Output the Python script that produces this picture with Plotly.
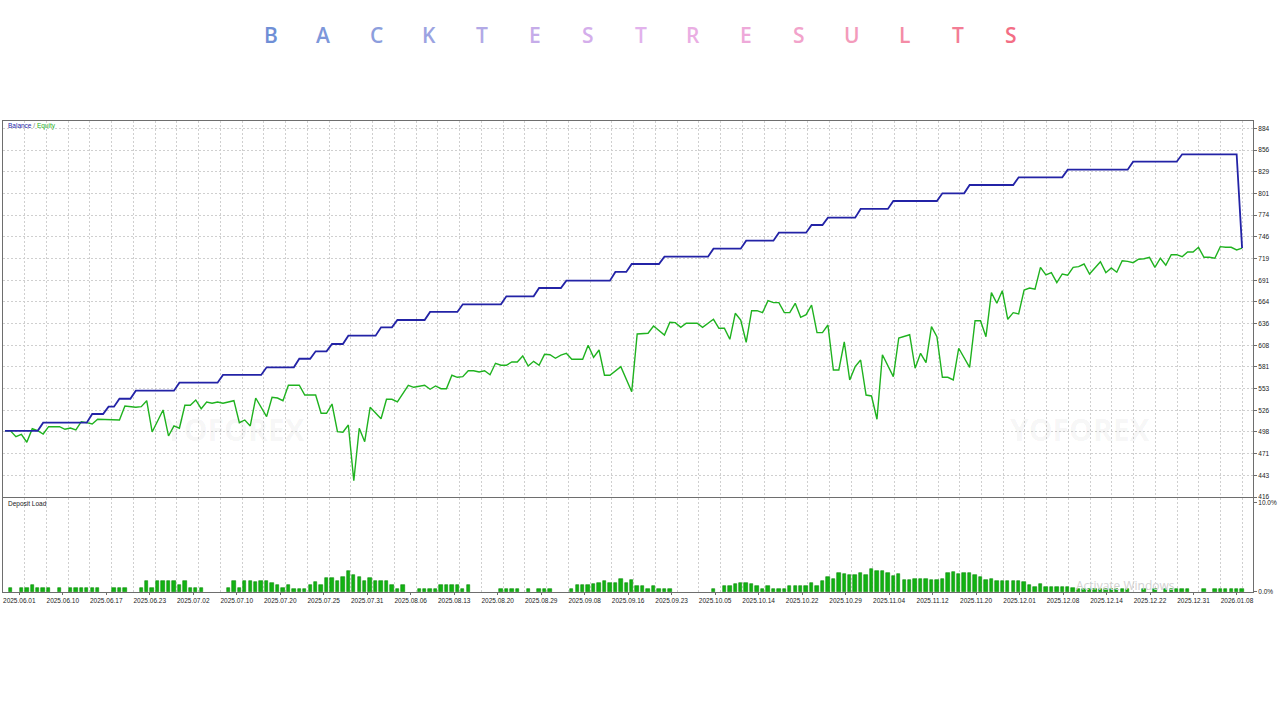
import plotly.graph_objects as go

# ---------------- data ----------------
title_letters = ["B", "A", "C", "K", "T", "E", "S", "T", "R", "E", "S", "U", "L", "T", "S"]
title_colors = ["#6f8fd6", "#7d97da", "#8c9edd", "#9ba3e1", "#b2a9e6", "#c5ace9", "#d4aeeb",
                "#e2b2ec", "#eaaee3", "#eea9d9", "#f2a3cb", "#f39bbb", "#f48ca6", "#f37d95", "#f36e85"]

date_labels = ["2025.06.01", "2025.06.10", "2025.06.17", "2025.06.23", "2025.07.02", "2025.07.10",
               "2025.07.20", "2025.07.25", "2025.07.31", "2025.08.06", "2025.08.13", "2025.08.20",
               "2025.08.29", "2025.09.08", "2025.09.16", "2025.09.23", "2025.10.05", "2025.10.14",
               "2025.10.22", "2025.10.29", "2025.11.04", "2025.11.12", "2025.11.20", "2025.12.01",
               "2025.12.08", "2025.12.14", "2025.12.22", "2025.12.31", "2026.01.08"]

y_tick_labels = ["416", "443", "471", "498", "526", "553", "581", "608", "636", "664", "691",
                 "719", "746", "774", "801", "829", "856", "884"]

balance_deals = [0, 6, 7, 15, 16, 18, 19, 20, 21, 23, 24, 31, 32, 39, 40, 47, 48, 53, 54, 56,
                 57, 59, 60, 62, 63, 68, 69, 71, 72, 77, 78, 83, 84, 91, 92, 97, 98, 102, 103, 111,
                 112, 114, 115, 120, 121, 129, 130, 135, 136, 141, 142, 147, 148, 150, 151, 156,
                 157, 162, 163, 171, 172, 176, 177, 185, 186, 194, 195, 206, 207, 215, 216, 226, 227]
balance_values = [500, 500, 510.4, 510.4, 521.4, 521.4, 530.7, 530.7, 540.8, 540.8, 551, 551,
                  561.2, 561.2, 571, 571, 580.7, 580.7, 591.6, 591.6, 601, 601, 610.3, 610.3,
                  620.9, 620.9, 631.5, 631.5, 640.8, 640.8, 651, 651, 660.7, 660.7, 670.9, 670.9,
                  681.4, 681.4, 690.7, 690.7, 701.8, 701.8, 711.9, 711.9, 721.2, 721.2, 731.3, 731.3,
                  741.5, 741.5, 751.7, 751.7, 761.4, 761.4, 770.7, 770.7, 781.8, 781.8, 791.9, 791.9,
                  801.7, 801.7, 812.2, 812.2, 822, 822, 831.7, 831.7, 841.8, 841.8, 851.2, 851.2, 732]

equity_deals = [0, 1, 2, 3, 4, 5, 6, 7, 8, 10, 11, 12, 13, 14, 15, 16, 17, 19, 21, 22, 24, 25, 26,
                27, 29, 30, 31, 32, 33, 34, 35, 36, 37, 38, 39, 40, 42, 43, 44, 45, 46, 48, 49, 50,
                51, 52, 54, 55, 57, 58, 59, 60, 61, 62, 63, 64, 65, 66, 67, 69, 70, 71, 72, 74, 75,
                77, 78, 79, 80, 81, 82, 83, 84, 85, 86, 87, 88, 89, 90, 91, 92, 93, 94, 95, 96, 97,
                98, 99, 100, 101, 102, 103, 104, 106, 107, 108, 109, 110, 111, 113, 115, 116, 118,
                119, 121, 122, 123, 124, 125, 127, 128, 130, 131, 132, 133, 134, 135, 136, 137, 138,
                139, 140, 141, 142, 143, 144, 145, 146, 147, 148, 149, 150, 151, 152, 153, 154, 155,
                156, 157, 158, 159, 160, 161, 163, 164, 166, 167, 168, 169, 170, 171, 172, 173, 174,
                175, 177, 178, 179, 180, 181, 182, 183, 184, 185, 186, 187, 188, 189, 190, 191, 192,
                193, 194, 195, 196, 197, 198, 199, 200, 201, 202, 203, 204, 205, 206, 207, 208, 209,
                210, 211, 212, 213, 214, 215, 216, 217, 218, 219, 220, 221, 222, 223, 224, 225, 226,
                227]
equity_values = [500.2, 500, 492.6, 495.6, 485.5, 502.7, 500.2, 496, 505.3, 505.3, 502, 503.6,
                 501.1, 511.6, 510.4, 508.7, 514.7, 513.8, 513.8, 531.6, 530, 530.7, 538.3, 498.6,
                 526.5, 493.5, 506.2, 503.3, 532.5, 532.5, 539.2, 528.1, 536.7, 535, 536.7, 535,
                 538.3, 510.4, 513.8, 506.2, 541.7, 518, 542.6, 541.7, 538.3, 557.9, 557.9, 545.5,
                 545.5, 522.3, 522.3, 534.1, 498.9, 498.2, 507.4, 436.7, 503.3, 486.2, 529.9, 515.4,
                 540.1, 540.1, 536.7, 557.9, 555.3, 557.9, 552.8, 557, 553.5, 553.5, 570.6, 568,
                 568.8, 576.4, 576.4, 574.8, 576.4, 571.3, 585.8, 583.3, 583.3, 587.5, 587.5, 595.1,
                 582.4, 588.3, 583.3, 597.2, 596.7, 592.2, 596.3, 598.5, 590.9, 590.9, 608.7, 593.4,
                 602.7, 570.6, 570.6, 581.5, 549.7, 623, 623.9, 633.2, 621.7, 637.9, 637.4, 631.5,
                 636.6, 636.6, 631.5, 641.7, 630.3, 630.3, 616.3, 649.3, 640.8, 612.5, 652.6, 652.6,
                 650.1, 665.3, 662.8, 662.8, 650.1, 650.1, 662, 644.2, 647.5, 659.8, 624.7, 624.7,
                 634.4, 577.3, 577.3, 612.9, 564.6, 581.5, 590, 545.5, 544.3, 514.7, 596.7, 568.8,
                 617.9, 622.1, 579.5, 598.5, 586.6, 632.3, 619.6, 568, 568, 564.6, 604.9, 580.7,
                 639.9, 639.9, 619.6, 675.5, 662, 678, 641.7, 650.1, 648.4, 678.9, 681.4, 679.8,
                 707.7, 698, 700.9, 688.2, 699.2, 697.6, 707.7, 708.5, 711.9, 699.2, 706.8, 714.8,
                 700.9, 706.8, 701.4, 716.1, 715.3, 713.6, 717.9, 718.6, 720.4, 707.7, 719.2, 710.3,
                 723.7, 723.7, 721.2, 727.2, 727.2, 733.1, 720.4, 720.4, 719.2, 733.9, 733.1, 733.1,
                 729.7, 732]

load_deals = [1, 3, 4, 5, 6, 7, 8, 10, 12, 13, 14, 15, 16, 17, 20, 21, 22, 25, 26, 27, 28, 29, 30,
              31, 32, 33, 34, 35, 36, 41, 42, 43, 44, 45, 46, 47, 48, 49, 50, 51, 52, 53, 54, 55,
              56, 57, 58, 59, 60, 61, 62, 63, 64, 65, 66, 67, 68, 69, 70, 71, 72, 73, 76, 77, 78,
              79, 80, 81, 82, 83, 84, 85, 91, 92, 93, 94, 96, 98, 99, 100, 104, 105, 106, 107, 108,
              109, 110, 111, 112, 113, 114, 115, 116, 117, 118, 119, 120, 121, 122, 130, 132, 133,
              134, 135, 136, 137, 138, 139, 140, 141, 142, 143, 144, 145, 146, 147, 148, 149, 150,
              151, 152, 153, 154, 155, 156, 157, 158, 159, 160, 161, 162, 163, 164, 165, 166, 167,
              168, 169, 170, 171, 172, 173, 174, 175, 176, 177, 178, 179, 180, 181, 182, 183, 184,
              185, 186, 187, 188, 189, 190, 191, 192, 193, 194, 195, 196, 197, 198, 199, 200, 201,
              202, 203, 204, 205, 206, 209, 211, 213, 214, 215, 216, 217, 220, 222, 223, 224, 225,
              226, 227]
load_values = [0.45, 0.45, 0.45, 0.82, 0.45, 0.45, 0.45, 0.45, 0.45, 0.45, 0.45, 0.45, 0.45, 0.45,
               0.45, 0.45, 0.45, 0.45, 1.2, 0.45, 1.2, 1.2, 1.27, 1.2, 0.82, 1.2, 0.45, 0.45, 0.45,
               0.45, 1.2, 0.45, 1.2, 1.2, 1.12, 1.2, 1.2, 1.05, 0.75, 0.45, 0.75, 0.3, 0.3, 0.3,
               0.75, 1.12, 0.82, 1.57, 1.57, 1.27, 1.65, 2.4, 1.87, 1.65, 1.27, 1.57, 1.2, 1.2, 1.2,
               0.75, 0.37, 0.75, 0.3, 0.3, 0.3, 0.3, 0.75, 0.75, 0.75, 0.75, 0.3, 0.75, 0.3, 0.3,
               0.3, 0.3, 0.3, 0.3, 0.3, 0.3, 0.3, 0.75, 0.75, 0.75, 0.9, 1.05, 1.27, 1.05, 1.05,
               1.5, 1.05, 1.35, 0.67, 0.67, 0.3, 0.67, 0.3, 0.3, 0.3, 0.3, 0.67, 0.67, 0.9, 0.97,
               0.97, 0.9, 0.67, 0.3, 0.67, 0.3, 0.3, 0.3, 0.67, 0.67, 0.67, 0.67, 0.97, 0.67, 1.27,
               1.65, 1.42, 2.17, 2.02, 1.87, 1.87, 2.1, 1.87, 2.62, 2.4, 2.4, 2.1, 1.8, 2.02, 1.35,
               1.35, 1.42, 1.42, 1.42, 1.35, 1.35, 1.42, 2.17, 2.25, 2.02, 2.1, 2.1, 1.87, 1.65,
               1.35, 1.5, 1.27, 1.2, 1.27, 1.27, 1.27, 1.12, 0.82, 0.6, 0.9, 0.6, 0.6, 0.6, 0.6,
               0.52, 0.45, 0.3, 0.3, 0.3, 0.3, 0.3, 0.3, 0.3, 0.3, 0.3, 0.3, 0.3, 0.3, 0.3, 0.3,
               0.3, 0.3, 0.3, 0.3, 0.3, 0.3, 0.3, 0.3, 0.3, 0.3]

# ---------------- layout constants ----------------
X_MIN, X_MAX = -0.37, 229.0
GRID_STEP = 3.99            # deals per vertical grid line
LABEL_STEP = 7.98           # deals per date label
Y_MIN, Y_MAX, Y_TOP = 416, 884, 893.5
FONT = "Liberation Sans"
GRID_COLOR = "#cfcfcf"
FRAME_COLOR = "#6e6e6e"

y_tick_vals = [Y_MIN + i * (Y_MAX - Y_MIN) / (len(y_tick_labels) - 1) for i in range(len(y_tick_labels))]
x_tick_vals = [X_MIN + LABEL_STEP * (i + 0.5) - 1.0 for i in range(len(date_labels))]
grid_vals = [X_MIN + GRID_STEP * i for i in range(1, 58)]

fig = go.Figure()

fig.add_trace(go.Bar(x=load_deals, y=load_values, xaxis="x2", yaxis="y2", width=0.62,
                     marker=dict(color="#12b312", line=dict(color="#0b8c0b", width=0.6)),
                     showlegend=False, hoverinfo="skip"))
fig.add_trace(go.Scatter(x=equity_deals, y=equity_values, mode="lines", xaxis="x", yaxis="y",
                         line=dict(color="#1fb21f", width=1.4), showlegend=False))
fig.add_trace(go.Scatter(x=balance_deals, y=balance_values, mode="lines", xaxis="x", yaxis="y",
                         line=dict(color="#2323a6", width=1.8), showlegend=False))

axis_common = dict(showline=True, mirror=True, linecolor=FRAME_COLOR, linewidth=1, zeroline=False)

fig.update_layout(
    width=1280, height=720,
    paper_bgcolor="white", plot_bgcolor="white",
    margin=dict(l=3, r=27, t=121, b=128),
    bargap=0,
    xaxis=dict(domain=[0, 1], anchor="y", range=[X_MIN, X_MAX], showticklabels=False,
               showgrid=False, ticks="",
               minor=dict(tickvals=grid_vals, showgrid=True, gridcolor=GRID_COLOR,
                          griddash="2px,2px", gridwidth=1),
               **axis_common),
    xaxis2=dict(domain=[0, 1], anchor="y2", matches="x", range=[X_MIN, X_MAX],
                tickmode="array", tickvals=x_tick_vals, ticktext=date_labels,
                tickfont=dict(family=FONT, size=6.5, color="#222222"), ticks="outside",
                ticklen=2, tickcolor=FRAME_COLOR, showgrid=False,
                minor=dict(tickvals=grid_vals, showgrid=True, gridcolor=GRID_COLOR,
                           griddash="2px,2px", gridwidth=1),
                **axis_common),
    yaxis=dict(domain=[0.2017, 1], anchor="x", side="right", range=[Y_MIN, Y_TOP],
               tickmode="array", tickvals=y_tick_vals, ticktext=y_tick_labels,
               tickfont=dict(family=FONT, size=6.5, color="#222222"), ticks="outside",
               ticklen=3, tickcolor=FRAME_COLOR,
               showgrid=True, gridcolor=GRID_COLOR, griddash="2px,2px", gridwidth=1,
               **axis_common),
    yaxis2=dict(domain=[0, 0.1996], anchor="x2", side="right", range=[0, 10.56],
                tickmode="array", tickvals=[0, 10], ticktext=["0.0%", "10.0%"],
                tickfont=dict(family=FONT, size=6.5, color="#222222"), ticks="outside",
                ticklen=3, tickcolor=FRAME_COLOR, showgrid=False,
                **axis_common),
)

annotations = []
# watermarks
for wx in (0.186, 0.862):
    annotations.append(dict(text="<b>YOFOREX</b>", xref="paper", yref="paper", x=wx, y=0.344,
                            xanchor="center", yanchor="middle", showarrow=False,
                            font=dict(family="Open Sans", size=30, color="rgba(0,0,0,0.05)")))
annotations.append(dict(text="Activate Windows", xref="paper", yref="paper",
                        x=(1125 - 3) / 1250, y=(592 - 585) / 471,
                        xanchor="center", yanchor="middle", showarrow=False,
                        font=dict(family="Open Sans", size=12, color="#d2d2d2")))
# legend-like labels
annotations.append(dict(text="<span style='color:#2323a6'>Balance</span>"
                             "<span style='color:#777777'> / </span>"
                             "<span style='color:#1fb21f'>Equity</span>",
                        xref="paper", yref="paper", x=0.0025, y=(592 - 126) / 471,
                        xanchor="left", yanchor="middle", showarrow=False,
                        font=dict(family=FONT, size=6.5)))
annotations.append(dict(text="Deposit Load", xref="paper", yref="paper", x=0.0025,
                        y=(592 - 504) / 471, xanchor="left", yanchor="middle", showarrow=False,
                        font=dict(family=FONT, size=6.5, color="#222222")))
# spaced title
for i, (ch, col) in enumerate(zip(title_letters, title_colors)):
    px = 270.5 + i * 52.86
    annotations.append(dict(text=ch, xref="paper", yref="paper", x=(px - 3) / 1250,
                            y=(592 - 35) / 471, xanchor="center", yanchor="middle",
                            showarrow=False,
                            font=dict(family="Open Sans", size=21, color=col, weight=600)))
fig.update_layout(annotations=annotations)

fig.write_html("out.html", config={"displayModeBar": False},
               post_script="document.body.style.margin='0';")
